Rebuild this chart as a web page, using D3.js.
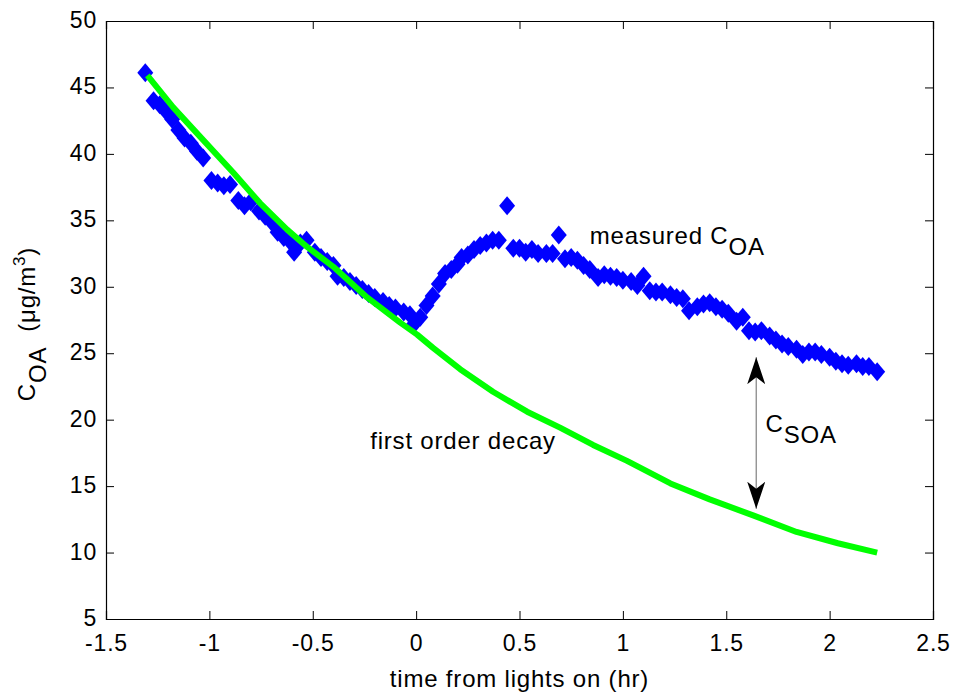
<!DOCTYPE html>
<html>
<head>
<meta charset="utf-8">
<script src="https://cdn.jsdelivr.net/npm/d3@7"></script>
<style>
  body { margin: 0; background: #fff; }
  text { font-family: "Liberation Sans", Arial, sans-serif; fill: #000; letter-spacing: 0.8px; }
</style>
</head>
<body>
<div id="chart"></div>
<script>
// measured C_OA (blue diamonds)
var measTime = [-1.31, -1.27, -1.24, -1.21, -1.18, -1.15, -1.12, -1.09, -1.06, -1.03,
  -0.99, -0.96, -0.93, -0.90, -0.86, -0.83, -0.80, -0.76, -0.73, -0.70,
  -0.67, -0.64, -0.61, -0.59, -0.56, -0.53, -0.49, -0.46, -0.43, -0.40,
  -0.38, -0.35, -0.32, -0.29, -0.26, -0.23, -0.20, -0.16, -0.13, -0.10,
  -0.06, -0.03, -0.01, 0.02, 0.05, 0.08, 0.11, 0.14, 0.17, 0.20,
  0.22, 0.25, 0.28, 0.31, 0.34, 0.37, 0.40, 0.44, 0.47, 0.50,
  0.53, 0.56, 0.59, 0.63, 0.66, 0.69, 0.72, 0.75, 0.78, 0.81,
  0.84, 0.88, 0.91, 0.94, 0.97, 1.00, 1.04, 1.07, 1.10, 1.13,
  1.16, 1.19, 1.23, 1.26, 1.29, 1.32, 1.36, 1.39, 1.42, 1.45,
  1.48, 1.51, 1.55, 1.58, 1.61, 1.64, 1.67, 1.71, 1.74, 1.77,
  1.80, 1.84, 1.87, 1.90, 1.93, 1.96, 2.00, 2.03, 2.06, 2.09,
  2.13, 2.16, 2.19, 2.23];
var measCoa = [46.1, 44.0, 43.7, 43.2, 42.6, 41.8, 41.2, 40.8, 40.2, 39.7,
  38.0, 37.8, 37.6, 37.7, 36.5, 36.1, 36.4, 35.7, 35.3, 34.9,
  34.1, 33.7, 33.4, 32.6, 33.3, 33.5, 32.6, 32.2, 31.9, 31.6,
  30.8, 30.7, 30.4, 30.1, 29.8, 29.5, 29.2, 28.9, 28.6, 28.4,
  28.1, 27.9, 27.2, 27.7, 28.6, 29.3, 30.2, 31.0, 31.3, 31.7,
  32.2, 32.4, 32.8, 33.1, 33.3, 33.5, 33.5, 36.1, 32.9, 32.9,
  32.6, 32.8, 32.5, 32.5, 32.5, 33.9, 32.1, 32.2, 32.0, 31.6,
  31.3, 30.7, 30.9, 30.8, 30.7, 30.5, 30.4, 30.1, 30.8, 29.7,
  29.6, 29.6, 29.4, 29.2, 29.1, 28.2, 28.5, 28.7, 28.8, 28.5,
  28.3, 28.0, 27.4, 27.7, 26.7, 26.6, 26.7, 26.3, 26.0, 25.7,
  25.5, 25.3, 24.9, 25.1, 25.1, 24.9, 24.7, 24.4, 24.2, 24.1,
  24.2, 24.0, 24.0, 23.6];

// first order decay (green line)
var decayTime = [-1.30, -1.175, -1.045, -0.885, -0.755, -0.624, -0.527, -0.40, -0.237, -0.077,
  0.005, 0.082, 0.213, 0.372, 0.537, 0.696, 0.856, 1.02, 1.23, 1.42,
  1.63, 1.84, 2.04, 2.23];
var decayCoa = [45.9, 43.5, 41.3, 38.6, 36.3, 34.3, 33.0, 31.5, 29.2, 27.3,
  26.4, 25.4, 23.8, 22.1, 20.6, 19.4, 18.1, 16.9, 15.2, 14.0,
  12.8, 11.55, 10.7, 10.0];

var xTicks = [-1.5, -1, -0.5, 0, 0.5, 1, 1.5, 2, 2.5];
var yTicks = [5, 10, 15, 20, 25, 30, 35, 40, 45, 50];

var margin = {top: 21, right: 20, bottom: 77, left: 106},
    width = 953 - margin.left - margin.right,
    height = 696 - margin.top - margin.bottom;

var svg = d3.select("#chart")
  .append("svg")
    .attr("width", 953)
    .attr("height", 696)
  .append("g")
    .attr("transform", "translate(" + margin.left + "," + margin.top + ")");

var x = d3.scaleLinear().domain([-1.5, 2.5]).range([0, width]);
var y = d3.scaleLinear().domain([5, 50]).range([height, 0]);

var fmt = function(d) { return String(d); };

// axes, MATLAB style: ticks pointing inward on all four sides
svg.append("g")
  .attr("transform", "translate(0," + height + ")")
  .call(d3.axisBottom(x).tickValues(xTicks).tickSize(-8).tickPadding(16).tickFormat(fmt));
svg.append("g")
  .call(d3.axisTop(x).tickValues(xTicks).tickSize(-8).tickFormat(""));
var yAxis = svg.append("g")
  .call(d3.axisLeft(y).tickValues(yTicks).tickSize(-8).tickPadding(9).tickFormat(fmt));
svg.append("g")
  .attr("transform", "translate(" + width + ",0)")
  .call(d3.axisRight(y).tickValues(yTicks).tickSize(-8).tickFormat(""));

svg.selectAll(".domain").attr("stroke", "#000").attr("stroke-width", 1.2);
svg.selectAll(".tick line").attr("stroke", "#000");
svg.selectAll(".tick text")
  .style("font-size", "23px")
  .style("font-family", "'Liberation Sans', Arial, sans-serif")
  .attr("fill", "#000");
yAxis.selectAll(".tick text").attr("dy", "0.28em");

// blue diamonds
var meas = measTime.map(function(t, i) { return {t: t, c: measCoa[i]}; });
svg.append("g")
  .selectAll("path")
  .data(meas)
  .enter().append("path")
    .attr("fill", "#0000ff")
    .attr("d", "M0,-9.5L8,0L0,9.5L-8,0Z")
    .attr("transform", function(d) { return "translate(" + x(d.t) + "," + y(d.c) + ")"; });

// green fitted line, drawn over the diamonds
var decay = decayTime.map(function(t, i) { return {t: t, c: decayCoa[i]}; });
svg.append("path")
  .datum(decay)
  .attr("fill", "none")
  .attr("stroke", "#00ff00")
  .attr("stroke-width", 6)
  .attr("stroke-linejoin", "round")
  .attr("d", d3.line()
    .x(function(d) { return x(d.t); })
    .y(function(d) { return y(d.c); })
  );

// arrow marking C_SOA
var defs = svg.append("defs");
defs.append("marker")
  .attr("id", "head")
  .attr("viewBox", "0 0 27 18")
  .attr("refX", 27).attr("refY", 9)
  .attr("markerWidth", 27).attr("markerHeight", 18)
  .attr("markerUnits", "userSpaceOnUse")
  .attr("orient", "auto-start-reverse")
  .append("path")
    .attr("d", "M27,9L0,0L7,9L0,18Z")
    .attr("fill", "#000");

var arrowT = 1.645;
svg.append("line")
  .attr("x1", x(arrowT)).attr("x2", x(arrowT))
  .attr("y1", y(24.7)).attr("y2", y(13.3))
  .attr("stroke", "#808080")
  .attr("stroke-width", 1.2)
  .attr("marker-start", "url(#head)")
  .attr("marker-end", "url(#head)");

// annotations
var t1 = svg.append("text").attr("x", x(0.84)).attr("y", y(33.2)).style("font-size", "24px");
t1.append("tspan").text("measured C");
t1.append("tspan").attr("dy", 11).text("OA");

svg.append("text").attr("x", x(-0.222)).attr("y", y(17.8)).style("font-size", "24px")
  .text("first order decay");

var t3 = svg.append("text").attr("x", x(1.69)).attr("y", y(19.07)).style("font-size", "24px");
t3.append("tspan").text("C");
t3.append("tspan").attr("dy", 11).text("SOA");

// axis labels
svg.append("text")
  .attr("x", width / 2)
  .attr("y", height + 68)
  .attr("text-anchor", "middle")
  .style("font-size", "24px")
  .text("time from lights on (hr)");

var yl = svg.append("text")
  .attr("transform", "translate(" + (-71) + "," + (height / 2 + 4) + ") rotate(-90)")
  .attr("text-anchor", "middle")
  .style("font-size", "24px");
yl.append("tspan").text("C");
yl.append("tspan").attr("dy", 11).text("OA");
yl.append("tspan").attr("dy", -11).text("\u00a0 (\u03bcg/m");
yl.append("tspan").attr("dy", -10).style("font-size", "17px").text("3");
yl.append("tspan").attr("dy", 10).text(")");
</script>
</body>
</html>
